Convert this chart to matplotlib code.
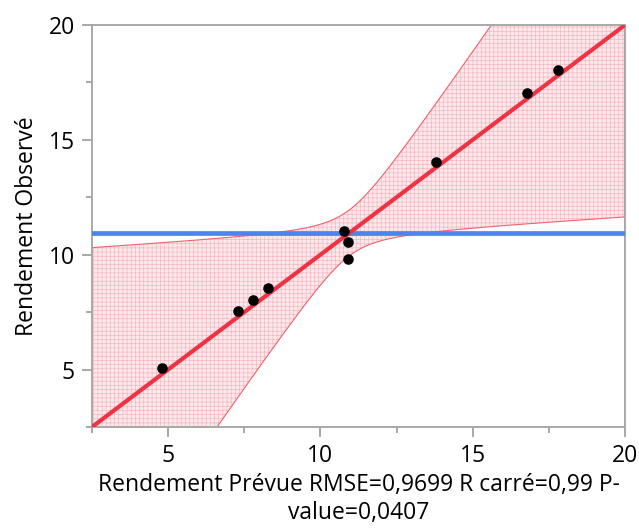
"""
Actual by predicted plot for rendement, with confidence curves and mean line.
"""
import numpy as np
import matplotlib.pyplot as plt
from matplotlib.ticker import MultipleLocator

plt.rcParams['font.family'] = ['Open Sans', 'DejaVu Sans']
plt.rcParams['hatch.linewidth'] = 0.45

# --- Data ---
predicted = [4.80, 7.28, 7.78, 8.29, 10.78, 10.92, 10.92, 13.78, 16.78, 17.79]
observed = [5.05, 7.54, 8.04, 8.54, 11.03, 10.54, 9.80, 14.04, 17.04, 18.03]
xTicks = [5, 10, 15, 20]
yTicks = [5, 10, 15, 20]
xLabel = 'Rendement Prévue RMSE=0,9699 R carré=0,99 P-\nvalue=0,0407'
yLabel = 'Rendement Observé'

# confidence curve parameters (half width = sqrt(a + b * (x - c)^2))
bandCenter = 10.95
bandA = 1.0
bandB = 0.84

axisMin, axisMax = 2.5, 20
meanObs = np.mean(observed)

# --- Plotting ---
fig = plt.figure(figsize=(6.39, 5.29), dpi=100)
ax = fig.add_axes([92/639, 1 - 427/529, 533/639, 402/529])

xs = np.linspace(axisMin, axisMax, 400)
halfW = np.sqrt(bandA + bandB * (xs - bandCenter) ** 2)
ax.fill_between(xs, xs - halfW, xs + halfW, facecolor='#fde9ec',
                edgecolor='#f6b3bc', hatch='++++', linewidth=0, zorder=1)
ax.plot(xs, xs + halfW, color='#f0606e', lw=0.8, zorder=2)
ax.plot(xs, xs - halfW, color='#f0606e', lw=0.8, zorder=2)

ax.axhline(meanObs, color='#4f84f0', lw=3.4, zorder=3)
ax.plot([axisMin, axisMax], [axisMin, axisMax], color='#ee3344', lw=3, zorder=4)
ax.scatter(predicted, observed, s=58, color='black', zorder=5, linewidths=0)

ax.set_xlim(axisMin, axisMax)
ax.set_ylim(axisMin, axisMax)
ax.set_xticks(xTicks)
ax.set_yticks(yTicks)
ax.xaxis.set_minor_locator(MultipleLocator(2.5))
ax.yaxis.set_minor_locator(MultipleLocator(2.5))

for sp in ax.spines.values():
    sp.set_color('#a8a8a8')
    sp.set_linewidth(1.4)
ax.tick_params(which='major', length=7.5, width=1.4, color='#a8a8a8',
               labelsize=16.5, pad=5)
ax.tick_params(which='minor', length=4.3, width=1.4, color='#a8a8a8')

ax.set_xlabel(xLabel, fontsize=16.5, linespacing=1.25, labelpad=3)
ax.set_ylabel(yLabel, fontsize=16.5, labelpad=7)

plt.savefig('out.png', dpi=100)
plt.close()
